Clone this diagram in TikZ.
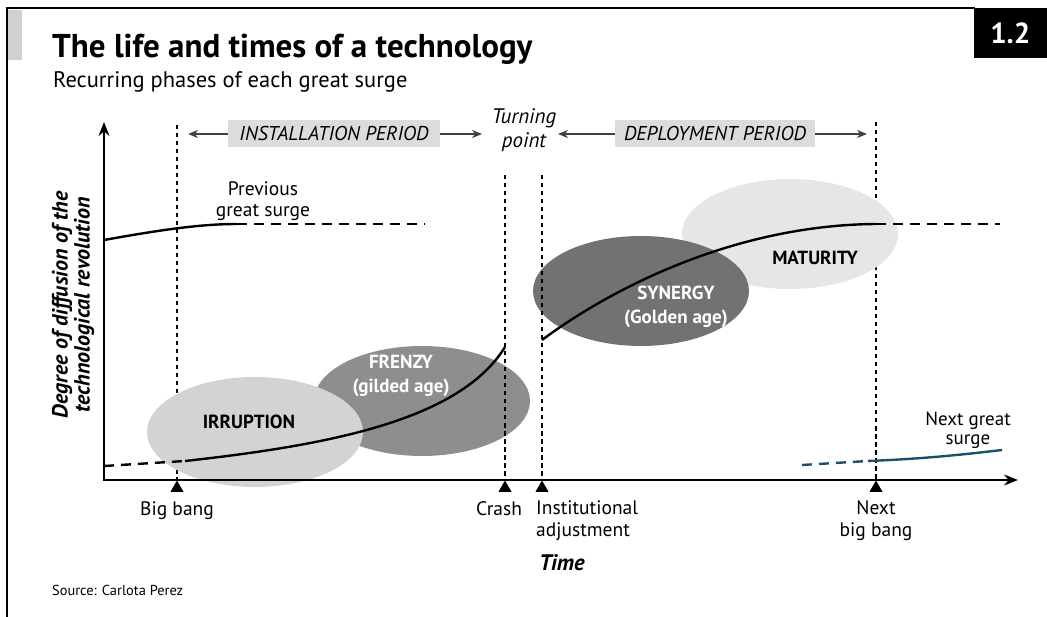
\documentclass[tikz,border=0pt]{standalone}
\usepackage{fontspec}
\setmainfont{PT Sans}
\usetikzlibrary{positioning, arrows.meta, shapes.geometric}

\definecolor{bargray}{HTML}{D0D0D0}
\definecolor{boxgray}{HTML}{DCDCDC}
\definecolor{irrgray}{HTML}{D3D3D3}
\definecolor{frenzygray}{HTML}{8E8E8E}
\definecolor{synergygray}{HTML}{727272}
\definecolor{maturegray}{HTML}{E6E6E6}
\definecolor{nextblue}{HTML}{1D4E6B}

\tikzset{
  phase/.style={ellipse, inner sep=0pt, minimum width=216, minimum height=110},
  phaselabel/.style={font=\bfseries\fontsize{19}{24}\selectfont, align=center},
  marker/.style={regular polygon, regular polygon sides=3, fill=black, inner sep=0pt, minimum size=15},
  vline/.style={line width=2.2pt, dash pattern=on 4.5pt off 3.5pt},
  surge/.style={line width=2.4pt},
  surgedash/.style={line width=2.4pt, dash pattern=on 10pt off 7pt},
  period/.style={fill=boxgray, font=\itshape\fontsize{20}{22}\selectfont, minimum height=27, inner sep=0pt},
  periodarrow/.style={black!75, line width=1.3pt, -{Stealth[length=10pt, width=8pt]}},
  tick/.style={font=\fontsize{19.5}{22}\selectfont, inner sep=0pt},
  axis/.style={line width=1.6pt, {Stealth[length=14pt, width=11pt]}-{Stealth[length=14pt, width=11pt]}}
}

\begin{document}
\begin{tikzpicture}[x=1pt, y=-1pt]
\useasboundingbox (0,0) rectangle (1047,617);

% frame and heading
\draw[line width=2pt] (7,617) -- (7,8) -- (975,8);
\fill[bargray] (8,10) rectangle (22,60);
\node[fill=black, text=white, font=\bfseries\fontsize{29}{30}\selectfont, minimum width=73, minimum height=50, inner sep=0pt, anchor=north east] (fignum) at (1047,8) {1.2};
\node[anchor=base west, inner sep=0pt, font=\bfseries\fontsize{33}{36}\selectfont] (title) at (52,58) {The life and times of a technology};
\node[anchor=base west, inner sep=0pt, font=\fontsize{22.5}{25}\selectfont] (subtitle) at (53,88) {Recurring phases of each great surge};

% axes
\coordinate (origin) at (104,480);
\coordinate (ytip) at (104,122);
\coordinate (xtip) at (1018,480);

% events on the time axis
\node[marker] (bigbang) at (177,488) {};
\node[marker] (crash) at (505,488) {};
\node[marker] (adjust) at (542,488) {};
\node[marker] (nextbang) at (876,488) {};
\coordinate (bigbangtop) at (177,125);
\coordinate (crashtop) at (505,175);
\coordinate (adjusttop) at (542,175);
\coordinate (nextbangtop) at (876,122);

\draw[vline] (bigbangtop) -- (bigbang.north);
\draw[vline] (nextbangtop) -- (nextbang.north);

% phases
\node[phase, fill=maturegray] (maturity) at (790,234) {};
\node[phase, fill=synergygray] (synergy) at (641,291) {};
\node[phase, fill=frenzygray] (frenzy) at (422,401) {};
\node[phase, fill=irrgray] (irruption) at (255,432) {};

\draw[vline] (crashtop) -- (crash.north);
\draw[vline] (adjusttop) -- (adjust.north);
\draw[axis] (ytip) -- (origin) -- (xtip);

\node[phaselabel] (irrtext) at (249,422) {IRRUPTION};
\node[phaselabel, text=white] (frenzytext) at (401,376) {FRENZY\\(gilded age)};
\node[phaselabel, text=white] (synergytext) at (676,307) {SYNERGY\\(Golden age)};
\node[phaselabel] (maturetext) at (815,258) {MATURITY};

% surge curves
\coordinate (prevstart) at (104,240);
\coordinate (prevend) at (237,224);
\coordinate (prevfade) at (425,224);
\draw[surge] (prevstart) .. controls (160,230) and (200,224) .. (prevend);
\draw[surgedash] (prevend) -- (prevfade);

\coordinate (curstart) at (104,466);
\coordinate (irrstart) at (185,461);
\coordinate (crashend) at (505,347);
\coordinate (adjuststart) at (542,340);
\coordinate (maturend) at (876,224);
\coordinate (maturfade) at (1000,224);
\draw[surgedash] (curstart) -- (irrstart);
\draw[surge] (irrstart) .. controls (330,445) and (460,420) .. (crashend);
\draw[surge] (adjuststart) .. controls (612,288) and (735,225) .. (maturend);
\draw[surgedash] (maturend) -- (maturfade);

\coordinate (nextstart) at (802,465);
\coordinate (nextmid) at (868,461);
\coordinate (nextend) at (1002,450);
\draw[surgedash, nextblue] (nextstart) -- (nextmid);
\draw[surge, nextblue] (nextmid) .. controls (920,459) and (960,455) .. (nextend);

% period bar
\node[period, minimum width=212] (install) at (334,134) {INSTALLATION PERIOD};
\node[period, minimum width=200] (deploy) at (715,134) {DEPLOYMENT PERIOD};
\coordinate (installL) at (188,134);
\coordinate (installR) at (482,134);
\coordinate (deployL) at (558,134);
\coordinate (deployR) at (867,134);
\draw[periodarrow] (install.west) -- (installL);
\draw[periodarrow] (install.east) -- (installR);
\draw[periodarrow] (deploy.west) -- (deployL);
\draw[periodarrow] (deploy.east) -- (deployR);
\node[align=center, font=\itshape\fontsize{21}{24}\selectfont] (turning) at (524,130) {Turning\\point};

% labels
\node[align=center, font=\fontsize{19.5}{21}\selectfont] (prevtext) at (263,201) {Previous\\great surge};
\node[align=center, font=\fontsize{19}{19}\selectfont] (nexttext) at (968,430) {Next great\\surge};
\node[rotate=90, align=center, font=\bfseries\itshape\fontsize{22}{22}\selectfont] (ylabel) at (73,305) {Degree of diffusion of the\\technological revolution};

\node[tick, anchor=base] (bigbangtext) at (177,515) {Big bang};
\node[tick, anchor=base] (crashtext) at (499,515) {Crash};
\node[tick, anchor=north west, align=left] (adjusttext) at (536,500) {Institutional\\adjustment};
\node[tick, anchor=north, align=center] (nextbangtext) at (876,500) {Next\\big bang};
\node[font=\bfseries\itshape\fontsize{22.5}{24}\selectfont] (time) at (562,563) {Time};
\node[anchor=base west, inner sep=0pt, font=\fontsize{14.4}{16}\selectfont] (source) at (52,595) {Source: Carlota Perez};
\end{tikzpicture}
\end{document}
